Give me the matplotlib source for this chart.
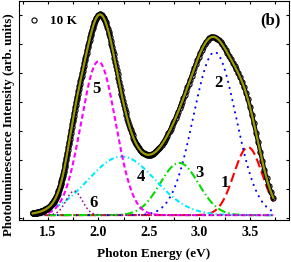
import numpy as np
import matplotlib
matplotlib.use('Agg')
import matplotlib.pyplot as plt
from matplotlib.ticker import MultipleLocator

# Gaussian components of the 10 K PL fit
peak_labels = ['1', '2', '3', '4', '5', '6']
peak_centers = [3.48, 3.15, 2.80, 2.23, 2.00, 1.76]   # eV
peak_widths = [0.14, 0.21, 0.19, 0.33, 0.17, 0.08]    # sigma, eV
peak_heights = [2.34, 5.62, 1.80, 2.02, 5.30, 0.83]   # arb. units

# where the peak numbers sit (eV, arb. units)
label_x = [3.25, 3.19, 3.00, 2.42, 1.985, 1.955]
label_y = [1.10, 4.55, 1.45, 1.31, 4.34, 0.41]

e_min, e_max = 1.35, 3.73
wl_step = 2.0  # nm, spectrometer step

colors = ['#ff0000', '#0000ff', '#00dd00', '#00eaff', '#ff00ff', '#8b1a8b']
styles = [(0, (4.5, 2.0)), (0, (0.1, 2.9)), (0, (3.9, 1.4, 0.7, 1.4)),
          (0, (2.5, 1.3, 0.6, 1.3)), (0, (2.4, 1.4)), (0, (0.1, 2.2))]

serif = ['Liberation Serif', 'DejaVu Serif']


def gauss(x, c, s, a):
    return a * np.exp(-(x - c) ** 2 / (2 * s ** 2))


def model(x):
    tot = np.zeros_like(x)
    for c, s, a in zip(peak_centers, peak_widths, peak_heights):
        tot += gauss(x, c, s, a)
    return tot


def main():
    plt.rcParams['font.family'] = serif
    plt.rcParams['font.weight'] = 'bold'

    fig = plt.figure(figsize=(2.91, 2.62), dpi=100)
    ax = fig.add_axes([0.0636, 0.160, 0.9294, 0.836])

    xs = np.linspace(e_min, e_max, 500)

    # components
    for i in range(len(peak_labels)):
        lw = 1.3 if i == 5 else 1.5
        ax.plot(xs, gauss(xs, peak_centers[i], peak_widths[i], peak_heights[i]),
                color=colors[i], lw=lw, linestyle=styles[i],
                dash_capstyle='round' if i in (1, 5) else 'butt', zorder=2)

    # measured points (uniform in wavelength) + fitted envelope
    wl = np.arange(1240.0 / e_max, 1240.0 / e_min, wl_step)
    ex = 1240.0 / wl
    ax.plot(xs, model(xs), color='black', lw=3.1, zorder=3)
    ax.plot(ex, model(ex), 'o', mfc='none', mec='black', mew=0.8, ms=3.7,
            zorder=3, label='10 K')
    ax.plot(xs, model(xs), color='#9a9a00', lw=1.6, zorder=4)

    for t, x, y in zip(peak_labels, label_x, label_y):
        ax.text(x, y, t, fontsize=12, fontweight='bold', ha='center', va='center')

    ax.text(0.933, 0.913, '(b)', transform=ax.transAxes, fontsize=12,
            fontweight='bold', ha='center', va='center')

    ax.legend(loc='upper left', frameon=False, handlelength=0.6,
              handletextpad=0.9, borderaxespad=0.2,
              bbox_to_anchor=(0.015, 0.972),
              prop={'family': serif, 'weight': 'bold', 'size': 9.5})

    ax.set_xlim(1.21, 3.885)
    ax.set_ylim(-0.17, 7.38)
    ax.xaxis.set_major_locator(MultipleLocator(0.5))
    ax.xaxis.set_minor_locator(MultipleLocator(0.25))
    ax.set_yticks(np.arange(-0.1, 7.0, 1.0))
    ax.set_yticklabels([])
    ax.tick_params(which='both', direction='in', top=True, right=True,
                   length=2.5, width=0.8, labelsize=10, pad=4)
    for sp in ax.spines.values():
        sp.set_linewidth(0.8)

    ax.set_xlabel('Photon Energy (eV)', fontsize=9.5, fontweight='bold', labelpad=7)
    ax.set_ylabel('Photoluminescence Intensity (arb. units)', fontsize=9.3,
                  fontweight='bold')
    ax.yaxis.set_label_coords(-0.012, 0.435)

    fig.savefig('out.png', dpi=100)


if __name__ == '__main__':
    main()
